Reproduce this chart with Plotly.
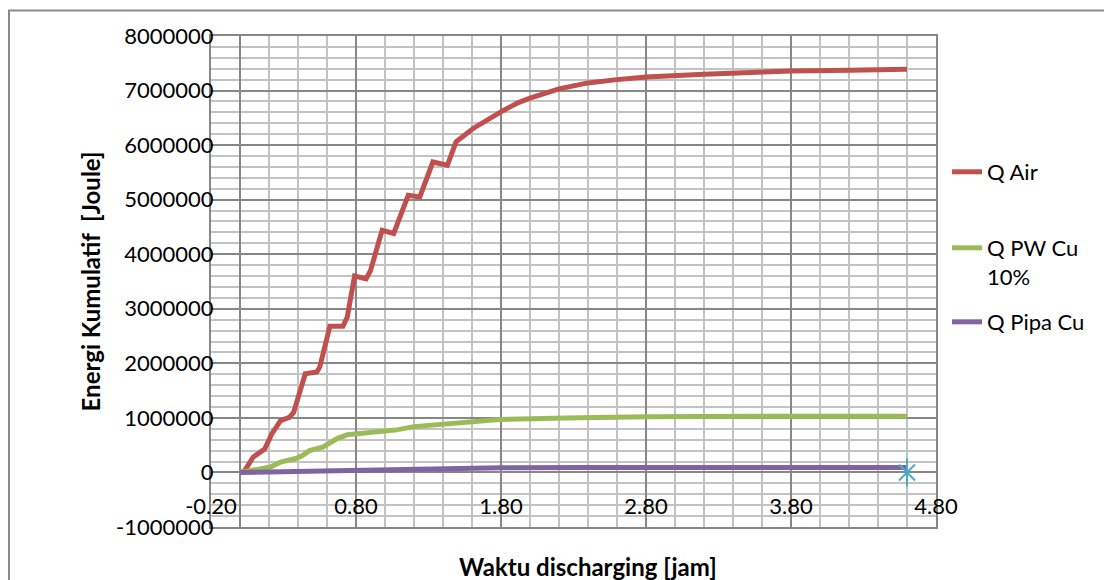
import plotly.graph_objects as go

# ---------------- data ----------------
t_air = [0.00, 0.03, 0.09, 0.14, 0.17, 0.22, 0.28, 0.34, 0.37, 0.45, 0.53, 0.55,
         0.62, 0.71, 0.74, 0.79, 0.87, 0.90, 0.98, 1.06, 1.08, 1.16, 1.24, 1.33,
         1.43, 1.49, 1.61, 1.70, 1.82, 1.92, 2.00, 2.20, 2.40, 2.60, 2.80, 3.20,
         3.80, 4.20, 4.60]
q_air = [0, 20000, 280000, 370000, 430000, 710000, 950000, 1010000, 1100000,
         1810000, 1840000, 1930000, 2680000, 2680000, 2850000, 3600000, 3550000,
         3700000, 4440000, 4380000, 4530000, 5080000, 5050000, 5690000, 5630000,
         6060000, 6310000, 6460000, 6640000, 6780000, 6860000, 7030000, 7140000,
         7200000, 7250000, 7300000, 7360000, 7370000, 7390000]

t_pw = [0.00, 0.10, 0.21, 0.28, 0.39, 0.43, 0.48, 0.57, 0.62, 0.67, 0.74, 0.87,
        1.08, 1.20, 1.52, 1.79, 2.25, 2.48, 2.80, 3.80, 4.60]
q_pw = [0, 40000, 100000, 190000, 260000, 310000, 400000, 465000, 550000, 620000,
        690000, 720000, 780000, 840000, 920000, 970000, 1000000, 1010000, 1020000,
        1030000, 1030000]

t_pipa = [0.00, 0.30, 0.64, 1.10, 1.50, 1.80, 2.40, 3.00, 3.80, 4.60]
q_pipa = [0, 15000, 30000, 55000, 75000, 85000, 90000, 90000, 90000, 90000]

t_star = [4.60]
q_star = [0]

series_names = ["Q Air", "Q PW Cu<br>10%", "Q Pipa Cu"]

x_tick_vals = [-0.2, 0.8, 1.8, 2.8, 3.8, 4.8]
x_tick_labels = ["-0.20", "0.80", "1.80", "2.80", "3.80", "4.80"]
y_tick_vals = [-1000000, 0, 1000000, 2000000, 3000000, 4000000, 5000000,
               6000000, 7000000, 8000000]
y_tick_labels = ["-1000000", "0", "1000000", "2000000", "3000000", "4000000",
                 "5000000", "6000000", "7000000", "8000000"]

x_title = "Waktu discharging [jam]"
y_title = "Energi Kumulatif\u00a0 [Joule]"

# ---------------- figure ----------------
W, H = 1104, 580
ML, MR, MT, MB = 211, 168, 36, 53
PW, PH = W - ML - MR, H - MT - MB

FONT = "Lato"
FS = 22
TFS = 24
MAJ = "#878787"
MIN = "#C3C3C3"
STAR = "#4BACC6"


def px_to_paper_x(px):
    return (px - ML) / PW


def px_to_paper_y(py):
    return (H - MB - py) / PH


fig = go.Figure()
fig.add_trace(go.Scatter(x=t_air, y=q_air, mode="lines", name=series_names[0],
                         line=dict(color="#C0504D", width=5), legend="legend"))
fig.add_trace(go.Scatter(x=t_pw, y=q_pw, mode="lines", name=series_names[1],
                         line=dict(color="#9BBB59", width=5), legend="legend2"))
fig.add_trace(go.Scatter(x=t_pipa, y=q_pipa, mode="lines", name=series_names[2],
                         line=dict(color="#8064A2", width=5), legend="legend3"))
fig.add_trace(go.Scatter(x=t_star, y=q_star, mode="markers", showlegend=False,
                         xaxis="x2", yaxis="y",
                         marker=dict(symbol="x-thin-open", size=16, color=STAR,
                                     line=dict(color=STAR, width=2))))
fig.add_trace(go.Scatter(x=t_star, y=q_star, mode="markers", showlegend=False,
                         xaxis="x2", yaxis="y",
                         marker=dict(symbol="line-ns-open", size=20, color=STAR,
                                     line=dict(color=STAR, width=2))))

legend_common = dict(xref="paper", yref="paper", xanchor="left",
                     yanchor="top", bgcolor="rgba(0,0,0,0)", borderwidth=0,
                     font=dict(family=FONT, size=FS, color="black"),
                     valign="top")
LX = px_to_paper_x(947)

fig.update_layout(
    width=W, height=H, autosize=False,
    margin=dict(l=ML, r=MR, t=MT, b=MB, pad=0),
    paper_bgcolor="white", plot_bgcolor="white",
    font=dict(family=FONT, size=FS, color="black"),
    xaxis=dict(range=[-0.2, 4.8], tickmode="linear", tick0=-0.2, dtick=1,
               showticklabels=False, ticks="",
               showgrid=True, gridcolor=MAJ, gridwidth=2,
               minor=dict(tickmode="linear", tick0=-0.2, dtick=0.2,
                          showgrid=True, gridcolor=MIN, gridwidth=2),
               zeroline=True, zerolinecolor=MAJ, zerolinewidth=2,
               showline=True, mirror=True, linecolor=MAJ, linewidth=2),
    xaxis2=dict(range=[-0.2, 4.8], overlaying="x", anchor="free",
                position=px_to_paper_y(491), side="bottom",
                tickmode="array", tickvals=x_tick_vals, ticktext=x_tick_labels,
                ticks="", showgrid=False, zeroline=False, showline=False,
                tickfont=dict(family=FONT, size=FS, color="black")),
    yaxis=dict(range=[-1000000, 8000000], tickmode="array",
               tickvals=y_tick_vals, ticktext=y_tick_labels, ticks="",
               ticklabelstandoff=-9,
               tickfont=dict(family=FONT, size=FS, color="black"),
               showgrid=True, gridcolor=MAJ, gridwidth=2,
               minor=dict(tickmode="linear", tick0=0, dtick=200000,
                          showgrid=True, gridcolor=MIN, gridwidth=2),
               zeroline=True, zerolinecolor=MAJ, zerolinewidth=2,
               showline=True, mirror=True, linecolor=MAJ, linewidth=2,
               title=dict(text="<b>" + y_title + "</b>", standoff=9,
                          font=dict(family=FONT, size=TFS, color="black"))),
    legend=dict(x=LX, y=px_to_paper_y(151), **legend_common),
    legend2=dict(x=LX, y=px_to_paper_y(227), **legend_common),
    legend3=dict(x=LX, y=px_to_paper_y(301), **legend_common),
    annotations=[dict(text="<b>" + x_title + "</b>", xref="paper", yref="paper",
                      x=px_to_paper_x(588), y=px_to_paper_y(566),
                      xanchor="center", yanchor="middle", showarrow=False,
                      font=dict(family=FONT, size=TFS, color="black"))],
    shapes=[dict(type="rect", xref="paper", yref="paper",
                 x0=px_to_paper_x(9), x1=px_to_paper_x(1120),
                 y0=px_to_paper_y(10.5), y1=px_to_paper_y(600),
                 line=dict(color="#8A8A8A", width=2), fillcolor="rgba(0,0,0,0)",
                 layer="below")],
    hovermode=False,
)

fig.write_html("out.html")
